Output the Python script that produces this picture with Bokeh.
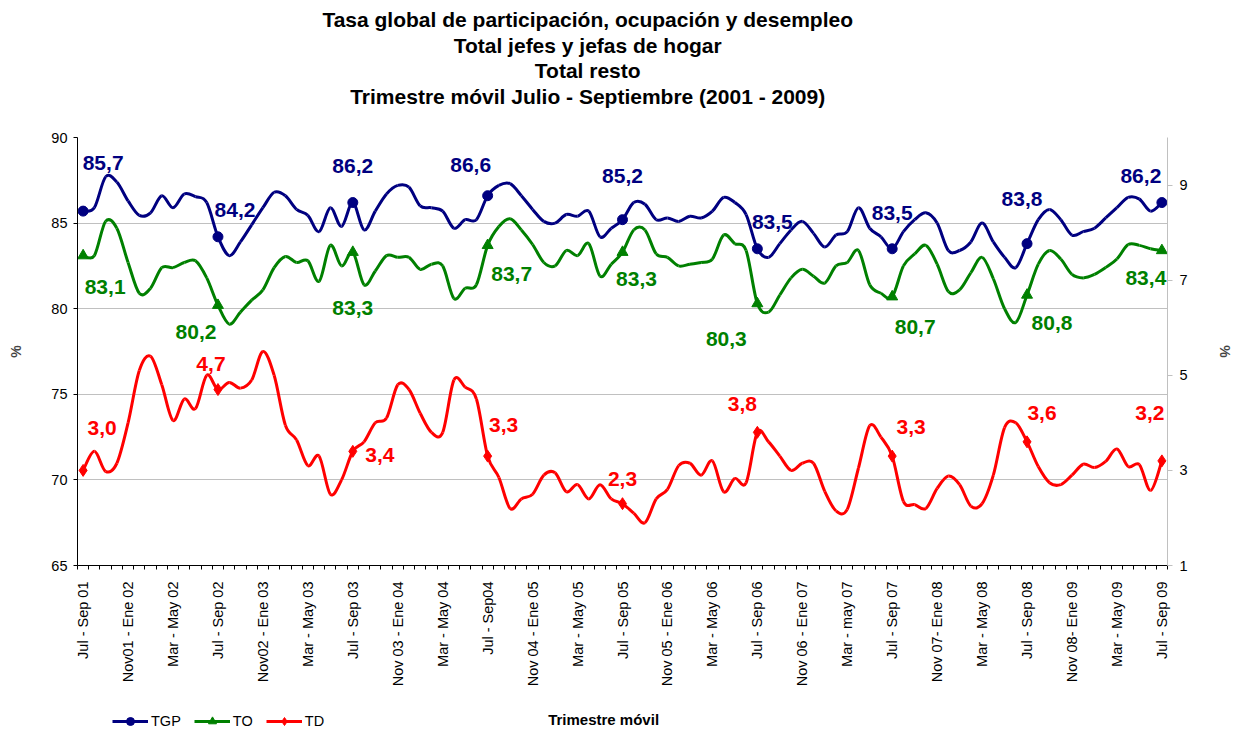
import math
from bokeh.plotting import figure
from bokeh.layouts import column
from bokeh.models import (Range1d, LinearAxis, FixedTicker, ColumnDataSource,
                          Legend, LegendItem, Label)
from bokeh.embed import file_html
from bokeh.resources import INLINE
from bokeh.core.properties import value

FONT = "Liberation Sans"

# ---------------- data ----------------
tick_labels = ["Jul - Sep 01", "Nov01 - Ene 02", "Mar - May 02", "Jul - Sep 02",
               "Nov02 - Ene 03", "Mar - May 03", "Jul - Sep 03", "Nov 03 - Ene 04",
               "Mar - May 04", "Jul - Sep04", "Nov 04 - Ene 05", "Mar - May 05",
               "Jul - Sep 05", "Nov 05 - Ene 06", "Mar - May 06", "Jul - Sep 06",
               "Nov 06 - Ene 07", "Mar - may 07", "Jul - Sep 07", "Nov 07- Ene 08",
               "Mar - May 08", "Jul - Sep 08", "Nov 08- Ene 09", "Mar - May 09",
               "Jul - Sep 09"]

tgp = [85.7, 85.9, 87.7, 87.4, 86.3, 85.45, 85.6, 86.6, 85.9, 86.7, 86.55, 86.2,
       84.2, 83.1, 83.9, 84.9, 85.9, 86.8, 86.6, 85.8, 85.45, 84.5, 85.9, 84.8,
       86.2, 84.6, 85.7, 86.7, 87.2, 87.1, 86.0, 85.9, 85.7, 84.7, 85.2, 85.2,
       86.6, 87.2, 87.3, 86.6, 85.8, 85.1, 85.0, 85.5, 85.4, 85.7, 84.2, 84.7,
       85.2, 86.2, 86.1, 85.2, 85.3, 85.1, 85.4, 85.3, 85.7, 86.5, 86.2, 85.5,
       83.5, 83.0, 83.8, 84.6, 85.1, 84.4, 83.6, 84.3, 84.5, 85.9, 84.7, 84.2,
       83.5, 84.5, 85.2, 85.6, 85.0, 83.4, 83.4, 83.9, 85.0, 83.9, 83.0, 82.4,
       83.8, 85.2, 85.8, 85.2, 84.3, 84.5, 84.7, 85.3, 85.9, 86.5, 86.4, 85.7,
       86.2]

to = [83.1, 83.1, 85.1, 84.7, 82.7, 80.9, 81.2, 82.4, 82.4, 82.7, 82.8, 81.8,
      80.2, 79.1, 79.8, 80.5, 81.1, 82.4, 83.05, 82.7, 82.8, 81.6, 83.7, 82.5,
      83.3, 81.4, 82.2, 83.1, 83.0, 83.0, 82.3, 82.6, 82.5, 80.6, 81.2, 81.4,
      83.7, 84.8, 85.25, 84.6, 83.75, 82.7, 82.5, 83.4, 83.1, 83.8, 81.9, 82.6,
      83.3, 84.6, 84.6, 83.2, 83.0, 82.5, 82.6, 82.7, 82.9, 84.3, 83.8, 83.4,
      80.3, 79.8, 80.8, 81.8, 82.3, 81.9, 81.5, 82.5, 82.7, 83.4, 81.4, 80.9,
      80.7, 82.5, 83.2, 83.7, 82.6, 81.0, 81.1, 82.1, 83.0, 81.75, 80.0, 79.2,
      80.8, 82.6, 83.4, 82.9, 82.0, 81.8, 82.0, 82.4, 82.9, 83.75, 83.7, 83.5,
      83.4]

td = [3.0, 3.4, 2.98, 3.15, 4.0, 5.1, 5.4, 4.8, 4.05, 4.5, 4.3, 5.0,
      4.7, 4.85, 4.73, 4.9, 5.5, 5.0, 3.95, 3.64, 3.1, 3.3, 2.5, 2.8,
      3.4, 3.6, 4.0, 4.1, 4.8, 4.7, 4.2, 3.8, 3.8, 4.9, 4.75, 4.5,
      3.3, 2.85, 2.2, 2.4, 2.5, 2.9, 2.95, 2.55, 2.7, 2.4, 2.7, 2.4,
      2.3, 2.1, 1.9, 2.4, 2.6, 3.1, 3.15, 2.9, 3.2, 2.55, 2.83, 2.74,
      3.8, 3.6, 3.3, 3.0, 3.15, 3.15, 2.56, 2.15, 2.18, 3.05, 3.94, 3.7,
      3.3, 2.35, 2.28, 2.2, 2.62, 2.88, 2.7, 2.25, 2.3, 2.9, 3.9, 4.0,
      3.6, 3.08, 2.74, 2.7, 2.9, 3.13, 3.06, 3.19, 3.45, 3.08, 3.12, 2.58,
      3.2]

series_names = ["TGP", "TO", "TD"]

# Jul - Sep quarters carry a marker and a value label
marked = list(range(0, 97, 12))

title_lines = ["Tasa global de participación, ocupación y desempleo",
               "Total jefes y jefas de hogar",
               "Total resto",
               "Trimestre móvil Julio - Septiembre (2001 - 2009)"]
x_title = "Trimestre móvil"

# label offsets in screen pixels (style only)
tgp_dx = [20, 17, 0, -17, 0, 15, 0, -5, -21]
tgp_dy = [-48, -27, -37, -31, -44, -27, -36, -45, -27]
to_dx = [22, -22, 0, 24, 14, -31, 23, 25, -16]
to_dy = [31, 27, 56, 29, 27, 35, 30, 28, 28]
td_dx = [19, -7, 27, 16, 0, -15, 19, 15, -12]
td_dy = [-42, -26, 4, -31, -25, -28, -29, -29, -48]

BLUE, GREEN, RED = "#000080", "#008000", "#FF0000"
W = 1235
LEFT, RIGHT = 77, 62
TOP_H, MAIN_H, BOT_H = 110, 590, 31


def blank_fig(h):
    # frame aligned with the main chart's frame; x data units == page pixels
    f = figure(width=W, height=h, output_backend="svg", toolbar_location=None,
               title=None, x_range=Range1d(LEFT, W - RIGHT), y_range=Range1d(h, 0),
               x_axis_type=None, y_axis_type=None, min_border=0,
               min_border_left=LEFT, min_border_right=RIGHT)
    f.outline_line_color = None
    f.grid.visible = False
    f.background_fill_color = "white"
    f.border_fill_color = "white"
    return f


# ---------------- title strip ----------------
top = blank_fig(TOP_H)
for k, line in enumerate(title_lines):
    top.add_layout(Label(x=590, y=19 + k * 25.6, text=line, text_font=FONT,
                         text_font_style="bold", text_font_size="21px",
                         text_align="center", text_baseline="middle",
                         text_color="black"))

# ---------------- main chart ----------------
p = figure(width=W, height=MAIN_H, output_backend="svg", toolbar_location=None,
           title=None, x_range=Range1d(-0.5, 96.5), y_range=Range1d(65, 90),
           min_border_left=LEFT, min_border_right=RIGHT, min_border_top=27,
           min_border_bottom=135)
p.extra_y_ranges = {"td": Range1d(1, 10)}
p.outline_line_color = None
p.background_fill_color = "white"
p.border_fill_color = "white"

p.xgrid.visible = False
p.ygrid.grid_line_color = "#c0c0c0"
p.ygrid.grid_line_width = 1

xa = p.xaxis[0]
xa.ticker = FixedTicker(ticks=list(range(0, 97, 4)),
                        minor_ticks=[i - 0.5 for i in range(98)])
xa.major_label_overrides = {i * 4: t for i, t in enumerate(tick_labels)}
xa.major_label_orientation = math.pi / 2
xa.major_tick_line_color = None
xa.major_tick_out = 0
xa.major_tick_in = 0
xa.minor_tick_line_color = "black"
xa.minor_tick_out = 4
xa.minor_tick_in = 0
xa.axis_line_color = "black"
xa.major_label_standoff = 12
xa.major_label_text_font = FONT
xa.major_label_text_font_size = "14.5px"
xa.major_label_text_color = "black"

ya = p.yaxis[0]
ya.ticker = FixedTicker(ticks=[65, 70, 75, 80, 85, 90])
ya.axis_line_color = "black"
ya.major_tick_line_color = "black"
ya.major_tick_out = 4
ya.major_tick_in = 0
ya.minor_tick_line_color = None
ya.major_label_standoff = 6
ya.major_label_text_font = FONT
ya.major_label_text_font_size = "14.5px"
ya.major_label_text_color = "black"
ya.axis_label = "%"
ya.axis_label_text_font = FONT
ya.axis_label_text_font_size = "14px"
ya.axis_label_text_font_style = "bold"
ya.axis_label_standoff = 24

ra = LinearAxis(y_range_name="td", ticker=FixedTicker(ticks=[1, 3, 5, 7, 9]))
ra.axis_line_color = "#c0c0c0"
ra.major_tick_line_color = "#c0c0c0"
ra.major_tick_out = 5
ra.major_tick_in = 0
ra.minor_tick_line_color = None
ra.major_label_standoff = 7
ra.major_label_text_font = FONT
ra.major_label_text_font_size = "14.5px"
ra.major_label_text_color = "black"
ra.axis_label = "%"
ra.axis_label_text_font = FONT
ra.axis_label_text_font_size = "14px"
ra.axis_label_text_font_style = "bold"
ra.axis_label_standoff = 26
p.add_layout(ra, "right")


def bezier_source(vals):
    n = len(vals)
    d = dict(x0=[], y0=[], x1=[], y1=[], cx0=[], cy0=[], cx1=[], cy1=[])
    for k in range(n - 1):
        km1 = max(k - 1, 0)
        kp2 = min(k + 2, n - 1)
        d["x0"].append(k)
        d["y0"].append(vals[k])
        d["x1"].append(k + 1)
        d["y1"].append(vals[k + 1])
        d["cx0"].append(k + (k + 1 - km1) / 6.0)
        d["cy0"].append(vals[k] + (vals[k + 1] - vals[km1]) / 6.0)
        d["cx1"].append(k + 1 - (kp2 - k) / 6.0)
        d["cy1"].append(vals[k + 1] - (vals[kp2] - vals[k]) / 6.0)
    return ColumnDataSource(d)


def fmt(v):
    return ("%.1f" % v).replace(".", ",")


series = [
    (tgp, BLUE, "circle", 10, None, tgp_dx, tgp_dy),
    (to, GREEN, "triangle", 11, None, to_dx, to_dy),
    (td, RED, "diamond", 12, "td", td_dx, td_dy),
]

for vals, color, marker, msize, rng, dxs, dys in series:
    kw = {} if rng is None else {"y_range_name": rng}
    p.bezier(x0="x0", y0="y0", x1="x1", y1="y1", cx0="cx0", cy0="cy0",
             cx1="cx1", cy1="cy1", source=bezier_source(vals),
             line_color=color, line_width=3, **kw)
    msrc = ColumnDataSource(dict(x=marked, y=[vals[i] for i in marked],
                                 text=[fmt(vals[i]) for i in marked],
                                 dx=dxs, dy=dys))
    p.scatter(x="x", y="y", source=msrc, marker=marker, size=msize,
              fill_color=color, line_color=color, **kw)
    p.text(x="x", y="y", text="text", x_offset="dx", y_offset="dy", source=msrc,
           text_font=value(FONT), text_font_style="bold", text_font_size="21px",
           text_color=color, text_align="center", text_baseline="middle", **kw)

# ---------------- bottom strip: legend + axis title ----------------
bot = blank_fig(BOT_H)
items = []
for name, (vals, color, marker, msize, rng, dxs, dys) in zip(series_names, series):
    # legend-only renderers: one undefined (NaN) point, so nothing is plotted
    lr = bot.line(x=[math.nan], y=[math.nan], line_color=color, line_width=3)
    sr = bot.scatter(x=[math.nan], y=[math.nan], marker=marker, size=msize - 1,
                     fill_color=color, line_color=color)
    items.append(LegendItem(label=name, renderers=[lr, sr]))
legend = Legend(items=items, location=(112 - LEFT, 0), orientation="horizontal",
                glyph_width=36, glyph_height=20, label_height=14,
                label_text_font=FONT, label_text_font_size="14.5px",
                label_text_color="black",
                label_standoff=3, spacing=13, padding=0, margin=0,
                border_line_color=None, background_fill_alpha=0)
bot.add_layout(legend)
bot.add_layout(Label(x=606, y=19, text=x_title, text_font=FONT,
                     text_font_style="bold", text_font_size="15px",
                     text_align="center", text_baseline="middle",
                     text_color="black"))

layout = column(top, p, bot, spacing=0)
open("out.html", "w").write(file_html(layout, INLINE, title="Tasa global"))
